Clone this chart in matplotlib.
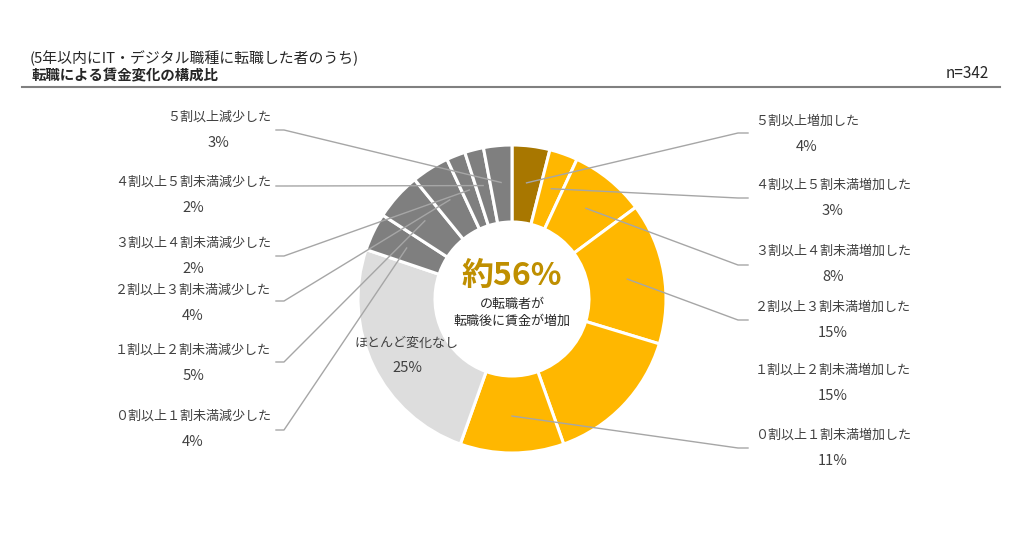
import numpy as np
import matplotlib
matplotlib.use("Agg")
import matplotlib.pyplot as plt

plt.rcParams['font.family'] = ['Noto Sans CJK JP', 'DejaVu Sans']

# ---- data ----
categories = [
    "５割以上増加した", "４割以上５割未満増加した", "３割以上４割未満増加した",
    "２割以上３割未満増加した", "１割以上２割未満増加した", "０割以上１割未満増加した",
    "ほとんど変化なし",
    "０割以上１割未満減少した", "１割以上２割未満減少した", "２割以上３割未満減少した",
    "３割以上４割未満減少した", "４割以上５割未満減少した", "５割以上減少した",
]
values = [4, 3, 8, 15, 15, 11, 25, 4, 5, 4, 2, 2, 3]
title_line1 = "(5年以内にIT・デジタル職種に転職した者のうち)"
title_line2 = "転職による賃金変化の構成比"
n_label = "n=342"
center_big = "約56%"
center_small = "の転職者が\n転職後に賃金が増加"

# ---- styles ----
C_DARKGOLD = "#A87700"
C_GOLD = "#FFB700"
C_LIGHT = "#DDDDDD"
C_GRAY = "#7F7F7F"
colors = [C_DARKGOLD] + [C_GOLD] * 5 + [C_LIGHT] + [C_GRAY] * 6
TXT = "#404040"
FS = 9.4
FSP = 10.6

W, H = 1031, 559
fig = plt.figure(figsize=(W / 100, H / 100), dpi=100)
ax = fig.add_axes([0, 0, 1, 1])

def Y(ypx):
    return H - ypx

cx, cy, R = 512, 299, 154
wedges, _ = ax.pie(values, colors=colors, startangle=90, counterclock=False,
                   center=(cx, Y(cy)), radius=R,
                   wedgeprops=dict(width=R * 0.5, edgecolor='white', linewidth=2.2))
ax.set_xlim(0, W)
ax.set_ylim(0, H)
ax.set_aspect('equal')
ax.axis('off')

# label layout (pixel coords): (x, y_label_line, side, line_end_y or None)
layout = [
    (755, 121, 'R', 133), (755, 185, 'R', 198), (755, 251, 'R', 265),
    (755, 307, 'R', 320), (755, 370, 'R', None), (755, 435, 'R', 448),
    (None, None, 'C', None),
    (271, 416, 'L', 430), (271, 350, 'L', 362), (271, 290, 'L', 301),
    (271, 243, 'L', 256), (271, 182, 'L', 186), (271, 117, 'L', 130),
]

renderer = fig.canvas.get_renderer()

def text_width(s):
    t = ax.text(0, 0, s, fontsize=FS)
    w = t.get_window_extent(renderer=renderer).width
    t.remove()
    return w

total = float(sum(values))
cum = 0.0
LC = "#A6A6A6"
for i, (v, cat) in enumerate(zip(values, categories)):
    mid = (cum + v / 2) / total * 2 * np.pi
    cum += v
    ax_, ay_ = cx + 0.76 * R * np.sin(mid), cy - 0.76 * R * np.cos(mid)
    lx, ly, side, le = layout[i]
    if side == 'R':
        ax.text(lx, Y(ly), cat, ha='left', va='center', fontsize=FS, color=TXT)
        w = text_width(cat)
        ax.text(lx + w / 2, Y(ly + 26), f"{v}%", ha='center', va='center', fontsize=FSP, color=TXT)
        if le is not None:
            ax.plot([ax_, 738, 748], [Y(ay_), Y(le), Y(le)], color=LC, lw=1)
    elif side == 'L':
        ax.text(lx, Y(ly), cat, ha='right', va='center', fontsize=FS, color=TXT)
        w = text_width(cat)
        ax.text(lx - w / 2, Y(ly + 26), f"{v}%", ha='center', va='center', fontsize=FSP, color=TXT)
        if le is not None:
            ax.plot([ax_, 284, 276], [Y(ay_), Y(le), Y(le)], color=LC, lw=1)
    else:
        ax.text(407, Y(343), cat, ha='center', va='center', fontsize=FS, color=TXT)
        ax.text(407, Y(368), f"{v}%", ha='center', va='center', fontsize=FSP, color=TXT)

# center text
ax.text(cx, Y(276), center_big, ha='center', va='center', fontsize=23, fontweight='bold', color="#BF8F00")
ax.text(cx, Y(313), center_small, ha='center', va='center', fontsize=FS, color="#262626", linespacing=1.35)

# titles
ax.text(30, Y(58), title_line1, ha='left', va='center', fontsize=10.7, color="#262626")
ax.text(31, Y(76), title_line2, ha='left', va='center', fontsize=10.4, fontweight='bold', color="#262626")
ax.text(989, Y(73), n_label, ha='right', va='center', fontsize=11, color="#262626")
ax.plot([22, 1000], [Y(86.5), Y(86.5)], color="#808080", lw=1.5)

fig.savefig("out.png", dpi=100, facecolor='white')
